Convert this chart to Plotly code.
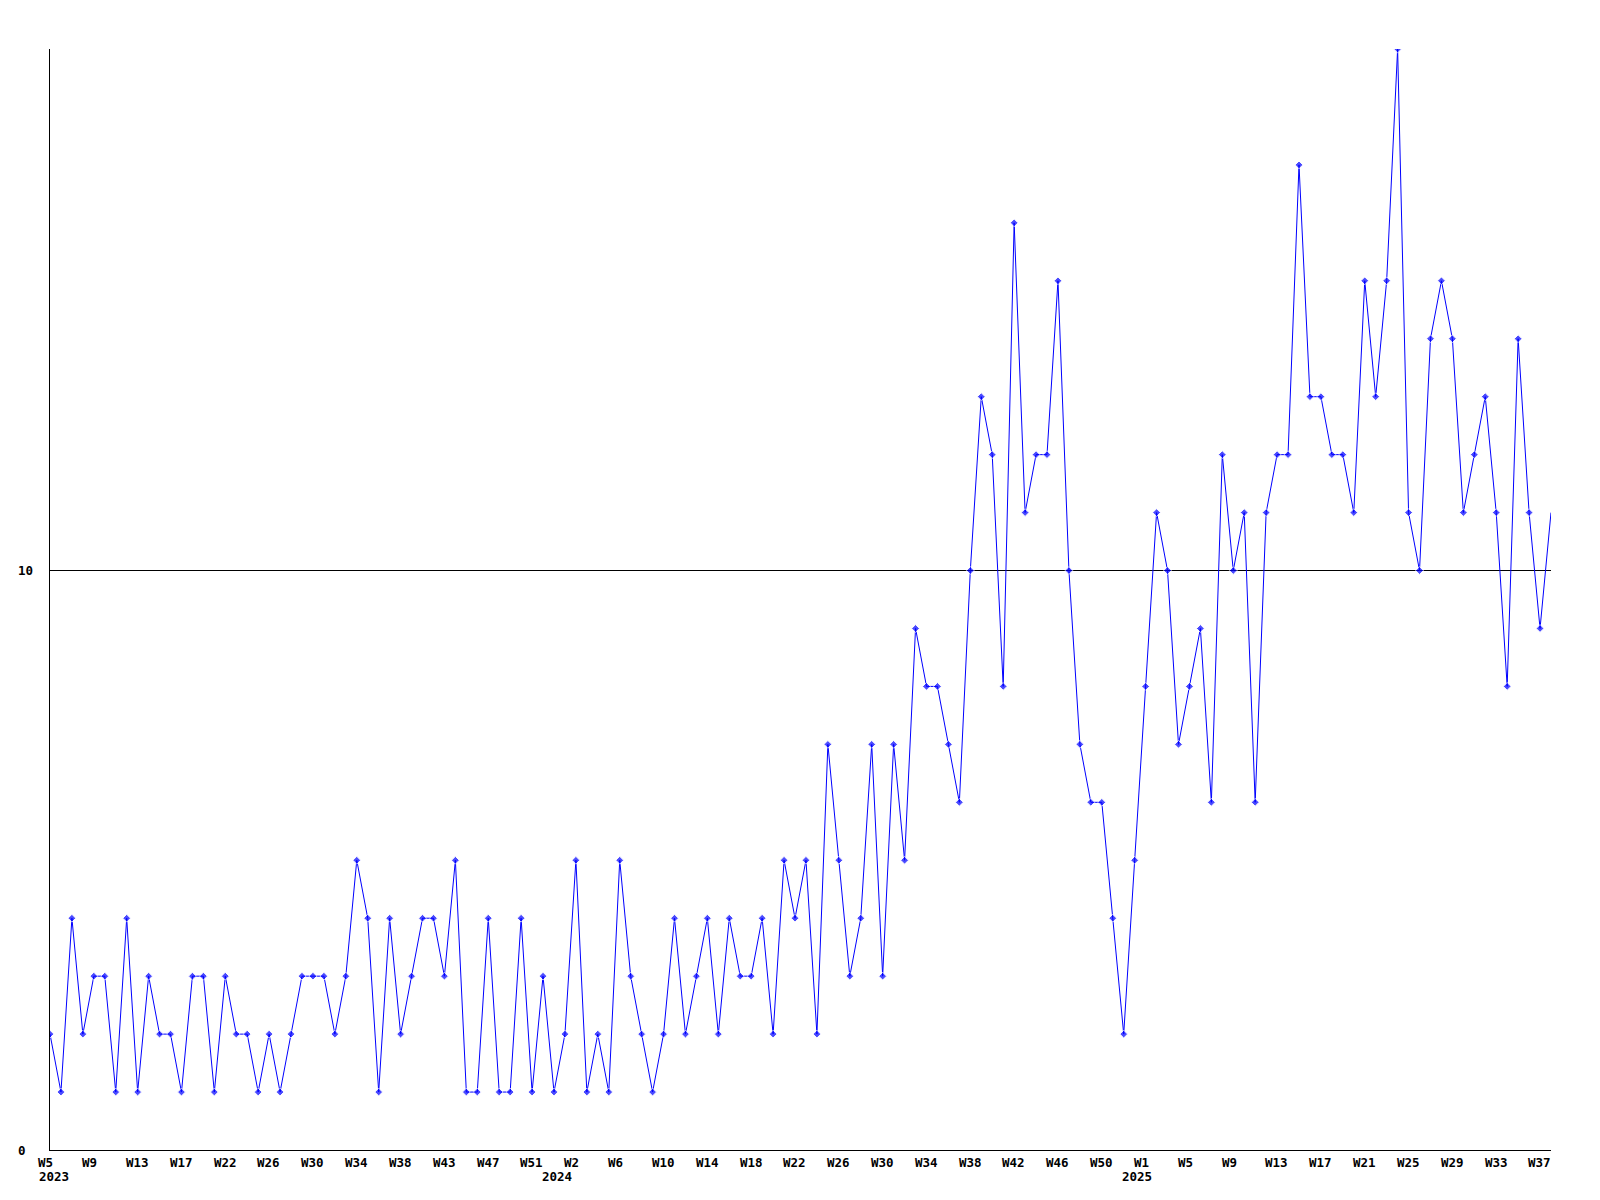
import plotly.graph_objects as go

# Weekly values, 2023 W5 .. 2025 W38 (evenly spaced points)
values_2023 = [2, 1, 4, 2, 3, 3, 1, 4, 1, 3, 2, 2, 1, 3, 3, 1, 3, 2, 2, 1,
               2, 1, 2, 3, 3, 3, 2, 3, 5, 4, 1, 4, 2, 3, 4, 4, 3, 5, 1, 1,
               4, 1, 1, 4, 1, 3, 1, 2]
values_2024 = [5, 1, 2, 1, 5, 3, 2, 1, 2, 4, 2, 3, 4, 2, 4, 3, 3, 4, 2, 5,
               4, 5, 2, 7, 5, 3, 4, 7, 3, 7, 5, 9, 8, 8, 7, 6, 10, 13, 12, 8,
               16, 11, 12, 12, 15, 10, 7, 6, 6, 4, 2, 5]
values_2025 = [8, 11, 10, 7, 8, 9, 6, 12, 10, 11, 6, 11, 12, 12, 17, 13, 13, 12, 12, 11,
               15, 13, 15, 19, 11, 10, 14, 15, 14, 11, 12, 13, 11, 8, 14, 11, 9, 11]

values = values_2023 + values_2024 + values_2025

# Tick labels (every 4th point)
week_labels = ["W5", "W9", "W13", "W17", "W22", "W26", "W30", "W34", "W38", "W43",
               "W47", "W51", "W2", "W6", "W10", "W14", "W18", "W22", "W26", "W30",
               "W34", "W38", "W42", "W46", "W50", "W1", "W5", "W9", "W13", "W17",
               "W21", "W25", "W29", "W33", "W37"]
year_labels = ["2023", "2024", "2025"]
y_tick_labels = ["0", "10"]
y_tick_values = [0, 10]

# layout positions (in point-index units)
tick_step = 4
label_offset = -1.25
year_positions = [-1.2, 44.75, 97.65]

n = len(values)
xs = list(range(n))
marker_sizes = [6] * (n - 1) + [0]

fig = go.Figure()
fig.add_trace(go.Scatter(
    x=xs, y=values, mode="lines+markers",
    line=dict(color="#0000ff", width=1),
    marker=dict(symbol="diamond", size=marker_sizes, color="#0000ff"),
    hoverinfo="skip", showlegend=False,
))

font = dict(family="DejaVu Sans Mono", size=12.5, color="black")
span = n - 1
annotations = []
for k, lab in enumerate(week_labels):
    annotations.append(dict(
        x=(k * tick_step + label_offset) / span, y=0, xref="paper", yref="paper",
        text="<b>" + lab + "</b>", showarrow=False, xanchor="left", yanchor="middle",
        yshift=-12, font=font,
    ))
for yl, pos in zip(year_labels, year_positions):
    annotations.append(dict(
        x=pos / span, y=0, xref="paper", yref="paper",
        text="<b>" + yl + "</b>", showarrow=False, xanchor="left", yanchor="middle",
        yshift=-26, font=font,
    ))
for tv, tl in zip(y_tick_values, y_tick_labels):
    annotations.append(dict(
        x=0, y=tv, xref="paper", yref="y",
        text="<b>" + tl + "</b>", showarrow=False, xanchor="left", yanchor="middle",
        xshift=-34, font=font,
    ))

fig.update_layout(
    width=1592, height=1192,
    margin=dict(l=42, r=49, t=41, b=50),
    paper_bgcolor="white", plot_bgcolor="white",
    annotations=annotations,
    xaxis=dict(range=[0, n - 1], showgrid=False, zeroline=False, showticklabels=False,
               ticks="", showline=True, linecolor="black", linewidth=1),
    yaxis=dict(range=[0, max(values)], tickvals=y_tick_values, showticklabels=False,
               showgrid=True, gridcolor="black", gridwidth=1, zeroline=False,
               ticks="", showline=True, linecolor="black", linewidth=1),
)

fig.write_html("out.html")
